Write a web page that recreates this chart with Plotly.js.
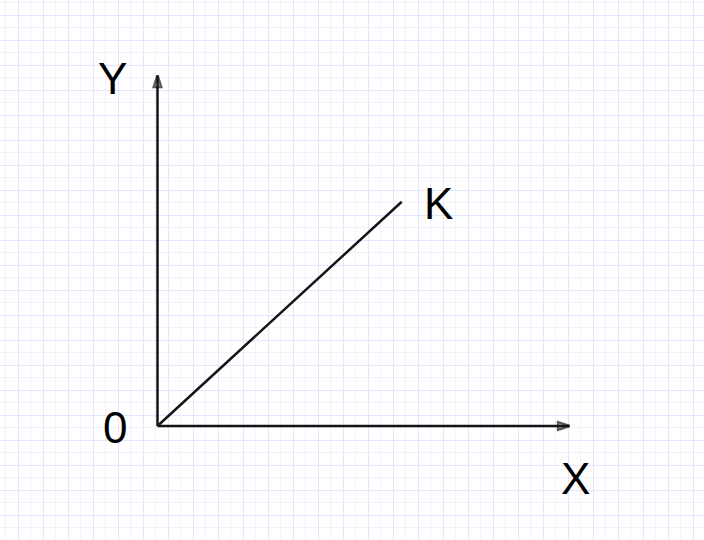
<!DOCTYPE html>
<html>
<head>
<meta charset="utf-8">
<script src="https://cdn.plot.ly/plotly-3.0.1.min.js"></script>
<style>html,body{margin:0;padding:0;background:#fff;}#chart{width:704px;height:540px;}</style>
</head>
<body>
<div id="chart"></div>
<script>
// Diagram data (units: grid squares, origin at 0)
const xAxisX = [0, 16.48];
const xAxisY = [0, 0];
const yAxisX = [0, 0];
const yAxisY = [0, 14.02];
const kLineX = [0, 9.77];
const kLineY = [0, 8.97];
const labelText = ['Y', 'X', '0', 'K'];
const labelX = [-1.8, 16.7, -1.7, 11.24];
const labelY = [13.92, -2.08, -0.06, 8.92];

const ink = '#141414';
function arrowTrace(xs, ys) {
  return {
    x: xs, y: ys, type: 'scatter', mode: 'lines+markers',
    line: {color: ink, width: 2.5},
    marker: {symbol: 'arrow-open', size: [0, 12], angleref: 'previous',
             color: ink, line: {color: ink, width: 2.5}},
    hoverinfo: 'skip', showlegend: false
  };
}
const traces = [
  arrowTrace(xAxisX, xAxisY),
  arrowTrace(yAxisX, yAxisY),
  {x: kLineX, y: kLineY, type: 'scatter', mode: 'lines',
   line: {color: ink, width: 2.5}, hoverinfo: 'skip', showlegend: false}
];
const annotations = labelText.map((t, i) => ({
  x: labelX[i], y: labelY[i], xref: 'x', yref: 'y', text: t, showarrow: false,
  xanchor: 'center', yanchor: 'middle',
  font: {family: '"Liberation Sans", Arial, sans-serif', size: 44, color: '#000'}
}));
const strong = 'rgb(231,228,253)';
const light = 'rgb(243,241,254)';
const layout = {
  width: 704, height: 540, autosize: false,
  margin: {l: 0, r: 0, t: 0, b: 0, pad: 0},
  paper_bgcolor: '#fff', plot_bgcolor: '#fff',
  showlegend: false,
  xaxis: {range: [-6.3, 21.86], showgrid: true, gridcolor: strong, gridwidth: 1.3,
          tick0: 0.433, dtick: 1, showticklabels: false, ticks: '', zeroline: false,
          showline: false, fixedrange: true,
          minor: {tick0: -0.067, dtick: 0.5, showgrid: true, gridcolor: light, gridwidth: 1}},
  yaxis: {range: [-4.56, 17.04], showgrid: true, gridcolor: strong, gridwidth: 1.3,
          tick0: 0.43, dtick: 1, showticklabels: false, ticks: '', zeroline: false,
          showline: false, fixedrange: true,
          minor: {tick0: -0.07, dtick: 0.5, showgrid: true, gridcolor: light, gridwidth: 1}},
  annotations: annotations
};
Plotly.newPlot('chart', traces, layout, {staticPlot: true, displayModeBar: false});
</script>
</body>
</html>
